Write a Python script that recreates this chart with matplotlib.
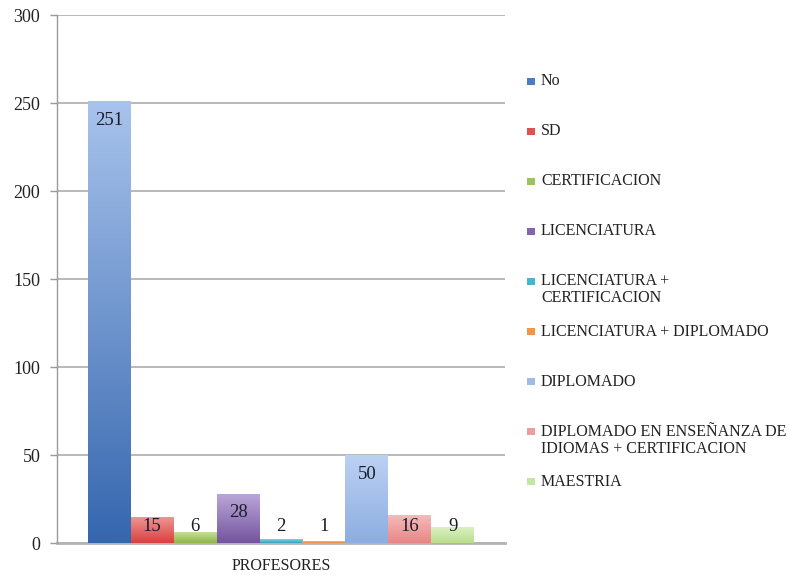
import numpy as np
import matplotlib
matplotlib.use("Agg")
import matplotlib.pyplot as plt
from matplotlib.colors import to_rgb
from matplotlib.patches import Rectangle

plt.rcParams['font.family'] = ['Liberation Serif', 'DejaVu Serif']

# Data
categories = ["No", "SD", "CERTIFICACION", "LICENCIATURA",
              "LICENCIATURA +\nCERTIFICACION", "LICENCIATURA + DIPLOMADO",
              "DIPLOMADO", "DIPLOMADO EN ENSEÑANZA DE\nIDIOMAS + CERTIFICACION",
              "MAESTRIA"]
values = [251, 15, 6, 28, 2, 1, 50, 16, 9]
group_label = "PROFESORES"
y_ticks = [0, 50, 100, 150, 200, 250, 300]

# gradient colours (top, bottom) and legend swatch colour per series
grad_top = ["#a8c3ec", "#f09896", "#c8df98", "#bba8d8", "#86d0e2",
            "#f9b984", "#bcd1f3", "#f7bcbc", "#dcf0c2"]
grad_bot = ["#3566ae", "#d8403e", "#8cb843", "#74549e", "#37a3c0",
            "#ec8536", "#8dade0", "#e88686", "#b8df8a"]
swatch = ["#4a7ec4", "#e05252", "#9bc45a", "#8566ad", "#4bb3cd",
          "#f39548", "#9fbbe8", "#ee9c9c", "#c5e6a0"]

W, H = 789, 575
fig = plt.figure(figsize=(W / 100, H / 100), dpi=100)
ax = fig.add_axes([57 / W, (H - 543) / H, (505 - 57) / W, (543 - 15) / H])

n = len(values)
x = np.arange(n)
bars = ax.bar(x, values, width=1.0, color=swatch, linewidth=0, zorder=2)

# vertical gradient inside each bar
for i, b in enumerate(bars):
    t = np.array(to_rgb(grad_top[i]))
    bt = np.array(to_rgb(grad_bot[i]))
    f = np.linspace(0, 1, 256)[:, None]
    img = (t * (1 - f) + bt * f)[:, None, :]
    x0, w, h = b.get_x(), b.get_width(), b.get_height()
    im = ax.imshow(img, extent=[x0, x0 + w, 0, h], aspect='auto',
                   origin='upper', zorder=3, interpolation='bilinear')
    im.set_clip_path(b)

# value labels
for i, v in enumerate(values):
    ax.text(x[i], max(v - 10.8, 9.1), str(v), ha='center', va='center',
            fontsize=13.5, color='#1c1c2c', zorder=5)

ax.set_xlim(-1.22, 9.22)
ax.set_ylim(0, 300)
ax.set_yticks(y_ticks)
ax.set_yticklabels([str(t) for t in y_ticks], fontsize=13, color='#222222')
ax.set_xticks([4])
ax.set_xticklabels([group_label], fontsize=11.5, color='#222222')
ax.tick_params(axis='x', length=0, pad=11)
ax.tick_params(axis='y', length=5, width=1, color='#9a9a9a', pad=7)

ax.yaxis.grid(True, color='#a6a6a6', linewidth=1.1, zorder=0)
ax.set_axisbelow(True)
for s in ['top', 'right']:
    ax.spines[s].set_visible(False)
ax.spines['left'].set_color('#9a9a9a')
ax.spines['left'].set_linewidth(1)
ax.spines['bottom'].set_color('#b4b4b4')
ax.spines['bottom'].set_linewidth(2)
ax.spines['bottom'].set_zorder(1.5)

# legend drawn in figure pixel coordinates
y0, step = 81, 50.1
for i, lab in enumerate(categories):
    yc = H - (y0 + i * step)
    fig.patches.append(Rectangle(((527) / W, (yc - 3.5) / H), 8 / W, 7 / H,
                                 transform=fig.transFigure, color=swatch[i],
                                 linewidth=0))
    lines = lab.split("\n")
    for k, line in enumerate(lines):
        fig.text(541 / W, (yc - k * 17) / H, line, ha='left', va='center',
                 fontsize=11.5, color='#222222')

fig.savefig("out.png", dpi=100, facecolor='white')
